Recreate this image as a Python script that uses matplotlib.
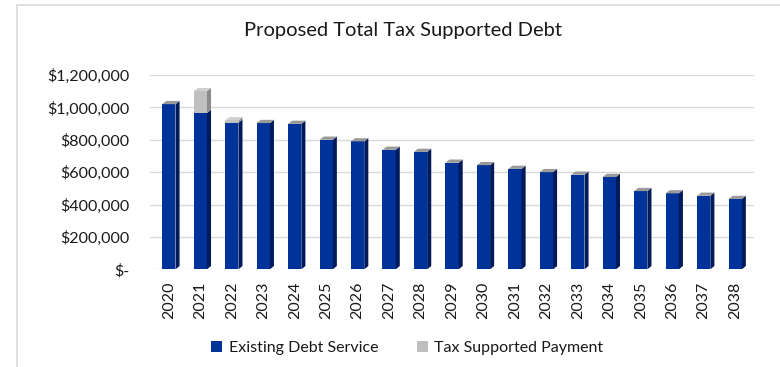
import matplotlib.pyplot as plt
from matplotlib.patches import Rectangle, Polygon
from matplotlib.ticker import FuncFormatter

# --- data ---
years = [str(y) for y in range(2020, 2039)]
existing_debt = [1020000, 965000, 905000, 903000, 898000, 800000, 790000, 738000,
                 725000, 658000, 643000, 620000, 600000, 584000, 570000, 483000,
                 469000, 454000, 434000]
tax_supported = [0, 135000, 15000, 0, 0, 0, 0, 0, 0, 0, 0, 0, 0, 0, 0, 0, 0, 0, 0]
y_ticks = [0, 200000, 400000, 600000, 800000, 1000000, 1200000]

# colours
BLUE = "#003399"
BLUE_SIDE = "#001a5c"
GREY = "#bfbfbf"
GREY_SIDE = "#8c8c8c"
TOP_CAP = "#9a9a9a"

plt.rcParams['font.family'] = ['Lato', 'DejaVu Sans']

fig = plt.figure(figsize=(7.8, 3.67), dpi=100)
ax = fig.add_axes([0.1923, 0.2662, 0.7744, 0.5294])

x = list(range(len(years)))
width = 0.42
# depth of the fake 3d side/top faces (in data units)
dx = 0.13
dy = 20000


def side_and_top(xc, y0, y1, face, top=None):
    xr = xc + width / 2
    xl = xc - width / 2
    ax.add_patch(Polygon([(xr, y0), (xr + dx, y0 + dy), (xr + dx, y1 + dy), (xr, y1)],
                         closed=True, facecolor=face, edgecolor='none', zorder=3))
    if top is not None:
        ax.add_patch(Polygon([(xl, y1), (xl + dx, y1 + dy), (xr + dx, y1 + dy), (xr, y1)],
                             closed=True, facecolor=top, edgecolor='none', zorder=3))


ax.bar(x, existing_debt, width=width, color=BLUE, zorder=3, label="Existing Debt Service")
ax.bar(x, tax_supported, width=width, bottom=existing_debt, color=GREY, zorder=3,
       label="Tax Supported Payment")

for i in x:
    b = existing_debt[i]
    t = tax_supported[i]
    side_and_top(i, 0, b, BLUE_SIDE, None if t else TOP_CAP)
    if t:
        side_and_top(i, b, b + t, GREY_SIDE, "#d0d0d0")

ax.set_xlim(-0.6, len(years) - 0.4)
ax.set_ylim(0, 1200000)
ax.set_yticks(y_ticks)
ax.yaxis.set_major_formatter(FuncFormatter(lambda v, p: "$-" if v == 0 else f"${v:,.0f}"))
ax.set_xticks(x)
ax.set_xticklabels(years, rotation=90)

ax.grid(axis='y', color='#d9d9d9', linewidth=1, zorder=0)
for s in ax.spines.values():
    s.set_visible(False)
ax.tick_params(axis='both', length=0, labelsize=11.5, colors='#1a1a1a')
ax.tick_params(axis='y', pad=15)
ax.tick_params(axis='x', pad=9)

fig.text(0.517, 0.918, "Proposed Total Tax Supported Debt", ha='center', va='center',
         fontsize=14.5, color='#1a1a1a')

leg = ax.legend(loc='center', ncol=2, frameon=False, fontsize=11.5, handlelength=0.7,
                handleheight=0.7, handletextpad=0.4, columnspacing=2.4)
for t in leg.get_texts():
    t.set_color('#1a1a1a')
leg.set_bbox_to_anchor((0.522, 0.052), transform=fig.transFigure)

# chart area border (runs off the right and bottom edges like the reference)
fig.patches.append(Rectangle((17 / 780, -0.1), 1.0, 1.0 + 0.1 - 5 / 367, transform=fig.transFigure,
                             fill=False, edgecolor='#d9d9d9', linewidth=1.2))

fig.savefig("out.png", dpi=100)
